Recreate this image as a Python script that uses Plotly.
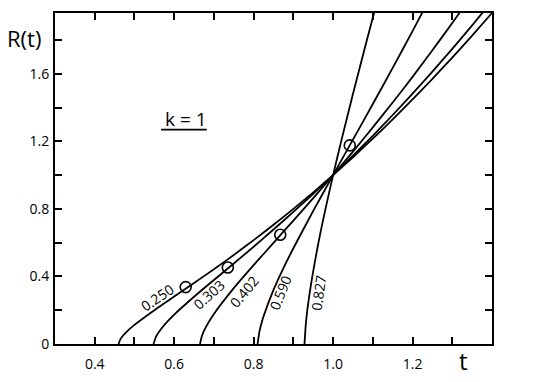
import plotly.graph_objects as go

# ---- data ----
labels = ["0.250", "0.303", "0.402", "0.590", "0.827"]

t_250 = [0.46, 0.465, 0.47, 0.48, 0.50, 0.55, 0.60, 0.65, 0.70, 0.75, 0.80, 0.85, 0.90, 0.95, 1.00, 1.05, 1.10, 1.15, 1.20, 1.25, 1.30, 1.35, 1.40]
r_250 = [0.0, 0.030, 0.046, 0.072, 0.113, 0.200, 0.281, 0.361, 0.443, 0.527, 0.615, 0.706, 0.800, 0.898, 1.000, 1.106, 1.216, 1.330, 1.448, 1.570, 1.696, 1.826, 1.960]

t_303 = [0.548, 0.555, 0.57, 0.60, 0.65, 0.70, 0.75, 0.80, 0.85, 0.90, 0.95, 1.00, 1.05, 1.10, 1.15, 1.20, 1.25, 1.30, 1.35, 1.40]
r_303 = [0.0, 0.047, 0.098, 0.174, 0.280, 0.379, 0.477, 0.576, 0.678, 0.782, 0.889, 1.000, 1.115, 1.233, 1.356, 1.482, 1.613, 1.748, 1.887, 2.030]

t_402 = [0.665, 0.67, 0.68, 0.70, 0.75, 0.80, 0.85, 0.90, 0.95, 1.00, 1.05, 1.10, 1.15, 1.20, 1.25, 1.30, 1.35]
r_402 = [0.0, 0.049, 0.101, 0.178, 0.331, 0.467, 0.599, 0.731, 0.864, 1.000, 1.139, 1.283, 1.430, 1.582, 1.739, 1.901, 2.067]

t_590 = [0.81, 0.815, 0.82, 0.825, 0.85, 0.875, 0.90, 0.95, 1.00, 1.05, 1.10, 1.15, 1.20, 1.25]
r_590 = [0.0, 0.079, 0.125, 0.164, 0.320, 0.449, 0.567, 0.788, 1.000, 1.210, 1.421, 1.635, 1.853, 2.076]

t_827 = [0.928, 0.932, 0.94, 0.96, 0.98, 1.00, 1.02, 1.05, 1.08, 1.11]
r_827 = [0.0, 0.135, 0.285, 0.561, 0.791, 1.000, 1.197, 1.480, 1.754, 2.022]

circle_t = [0.629, 0.735, 0.867, 1.042]
circle_r = [0.337, 0.453, 0.647, 1.176]

x_tickvals = [0.3, 0.4, 0.5, 0.6, 0.7, 0.8, 0.9, 1.0, 1.1, 1.2, 1.3, 1.4]
x_ticktext = ["", "0.4", "", "0.6", "", "0.8", "", "1.0", "", "1.2", "", ""]
y_tickvals = [0.0, 0.2, 0.4, 0.6, 0.8, 1.0, 1.2, 1.4, 1.6, 1.8]
y_ticktext = ["0", "", "0.4", "", "0.8", "", "1.2", "", "1.6", ""]

# label anchor points (t, R) and angles
label_t = [0.557, 0.687, 0.776, 0.867, 0.963]
label_r = [0.278, 0.294, 0.312, 0.306, 0.306]
label_angle = [-34, -42, -50, -68, -82]

FONT = "Open Sans"

fig = go.Figure()
curves = [(t_250, r_250), (t_303, r_303), (t_402, r_402), (t_590, r_590), (t_827, r_827)]
for (tx, ry), name in zip(curves, labels):
    fig.add_trace(go.Scatter(x=tx, y=ry, mode="lines", name=name,
                             line=dict(color="black", width=1.8, shape="spline", smoothing=0.6),
                             showlegend=False, hoverinfo="skip"))

fig.add_trace(go.Scatter(x=circle_t, y=circle_r, mode="markers",
                         marker=dict(symbol="circle-open", size=11, color="black", line=dict(width=1.6)),
                         showlegend=False, hoverinfo="skip"))

for lt, lr, la, txt in zip(label_t, label_r, label_angle, labels):
    fig.add_annotation(x=lt, y=lr, text=txt, textangle=la, showarrow=False,
                       font=dict(family=FONT, size=14, color="black"))

fig.add_annotation(x=0.63, y=1.335, text="k = 1", showarrow=False,
                   font=dict(family=FONT, size=19, color="black"))
fig.add_shape(type="line", x0=0.567, x1=0.682, y0=1.27, y1=1.27, xref="x", yref="y",
              line=dict(color="black", width=1.8))

fig.add_annotation(xref="paper", yref="paper", x=-0.071, y=0.925, text="R(t)", showarrow=False,
                   xanchor="center", yanchor="middle",
                   font=dict(family=FONT, size=22, color="black"))
fig.add_annotation(xref="paper", yref="paper", x=0.934, y=-0.051, text="t", showarrow=False,
                   xanchor="center", yanchor="middle",
                   font=dict(family=FONT, size=24, color="black"))

axis_common = dict(showgrid=False, zeroline=False, showline=True, linecolor="black", linewidth=2,
                   mirror="ticks", ticks="inside", ticklen=7, tickwidth=1.8, tickcolor="black",
                   tickfont=dict(family=FONT, size=14, color="black"))

fig.update_xaxes(range=[0.3, 1.4], tickmode="array", tickvals=x_tickvals, ticktext=x_ticktext,
                 ticklabelstandoff=6, **axis_common)
fig.update_yaxes(range=[0, 1.96], tickmode="array", tickvals=y_tickvals, ticktext=y_ticktext,
                 ticklabelstandoff=1, **axis_common)

# page body has an 8px margin, so the figure is shrunk by 8px and margins compensate
fig.update_layout(width=537, height=374, margin=dict(l=47, r=53, t=3, b=38),
                  plot_bgcolor="white", paper_bgcolor="white",
                  font=dict(family=FONT, color="black"))

fig.write_html("out.html")
